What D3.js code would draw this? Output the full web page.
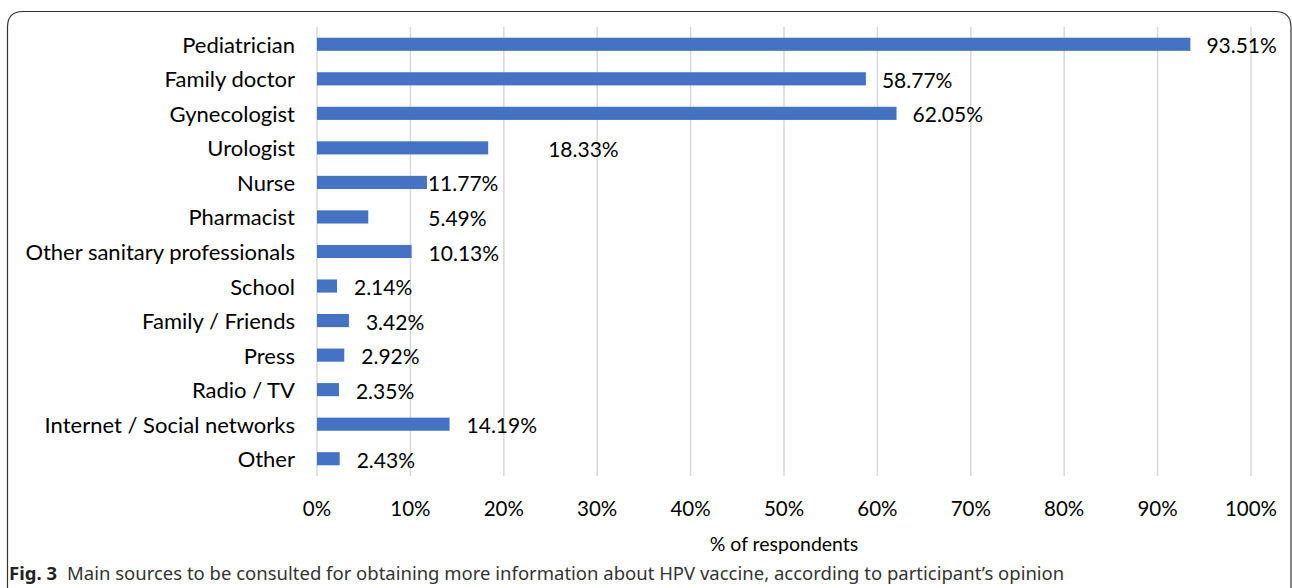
<!DOCTYPE html>
<html>
<head>
<meta charset="utf-8">
<script src="https://cdn.jsdelivr.net/npm/d3@7"></script>
<style>
  body { margin: 0; background: #fff; }
  svg { display: block; }
  .cat, .val, .tick text, .xtitle { font-family: Lato, "Liberation Sans", sans-serif; fill: #000; }
  .caption { font-family: "Noto Sans", "Open Sans", sans-serif; }
</style>
</head>
<body>
<div id="chart"></div>
<script>
// data
const categories = ["Pediatrician", "Family doctor", "Gynecologist", "Urologist", "Nurse",
  "Pharmacist", "Other sanitary professionals", "School", "Family / Friends", "Press",
  "Radio / TV", "Internet / Social networks", "Other"];
const values = [93.51, 58.77, 62.05, 18.33, 11.77, 5.49, 10.13, 2.14, 3.42, 2.92, 2.35, 14.19, 2.43];
const xTicks = [0, 10, 20, 30, 40, 50, 60, 70, 80, 90, 100];
// labels were hand placed in the original, offset (px) from bar end
const labelDx = [16, 16, 16, 60, 1, 60, 17, 17, 17, 17, 17, 17, 17];

const W = 1292, H = 588;
const margin = {top: 27, right: 41, bottom: 112, left: 317};

const svg = d3.select("#chart").append("svg")
  .attr("width", W).attr("height", H);

// rounded frame (bottom runs off the picture)
svg.append("path")
  .attr("d", `M7.5,${H} L7.5,27 Q7.5,11.5 23,11.5 L1275,11.5 Q1291,11.5 1291,27 L1291,${H}`)
  .attr("fill", "none").attr("stroke", "#333").attr("stroke-width", 1.2);

const x = d3.scaleLinear().domain([0, 100]).range([margin.left, W - margin.right]);
const y = d3.scaleBand().domain(categories).range([margin.top, H - margin.bottom])
  .paddingInner(0.62).paddingOuter(0.31);

// gridlines
svg.append("g").selectAll("line").data(xTicks).join("line")
  .attr("x1", d => x(d)).attr("x2", d => x(d))
  .attr("y1", margin.top).attr("y2", H - margin.bottom)
  .attr("stroke", "#d9d9d9").attr("stroke-width", 1.5);

// x tick labels
svg.append("g").selectAll("text").data(xTicks).join("text")
  .attr("class", "val")
  .attr("x", d => x(d)).attr("y", 508)
  .attr("text-anchor", "middle").attr("dominant-baseline", "central")
  .style("font-size", "20.5px")
  .text(d => d + "%");

svg.append("text").attr("class", "xtitle")
  .attr("x", (x(0) + x(100)) / 2).attr("y", 543)
  .attr("text-anchor", "middle").attr("dominant-baseline", "central")
  .style("font-size", "19.5px")
  .text("% of respondents");

// bars
svg.append("g").selectAll("rect").data(values).join("rect")
  .attr("x", x(0))
  .attr("y", (d, i) => y(categories[i]))
  .attr("width", d => x(d) - x(0))
  .attr("height", y.bandwidth())
  .attr("fill", "#4472c4");

// category labels
svg.append("g").selectAll("text").data(categories).join("text")
  .attr("class", "cat")
  .attr("x", x(0) - 22)
  .attr("y", d => y(d) + y.bandwidth() / 2)
  .attr("text-anchor", "end").attr("dominant-baseline", "central")
  .style("font-size", "22px")
  .text(d => d);

// value labels
svg.append("g").selectAll("text").data(values).join("text")
  .attr("class", "val")
  .attr("x", (d, i) => x(d) + labelDx[i])
  .attr("y", (d, i) => y(categories[i]) + y.bandwidth() / 2 + 0.5)
  .attr("dominant-baseline", "central")
  .style("font-size", "21px")
  .text(d => d.toFixed(2) + "%");

// caption
const cap = svg.append("text").attr("class", "caption")
  .attr("x", 9).attr("y", 580).style("font-size", "18.5px").attr("fill", "#333");
cap.append("tspan").attr("font-weight", "bold").attr("fill", "#222").text("Fig. 3");
cap.append("tspan").attr("dx", 10)
  .text("Main sources to be consulted for obtaining more information about HPV vaccine, according to participant\u2019s opinion");
</script>
</body>
</html>
